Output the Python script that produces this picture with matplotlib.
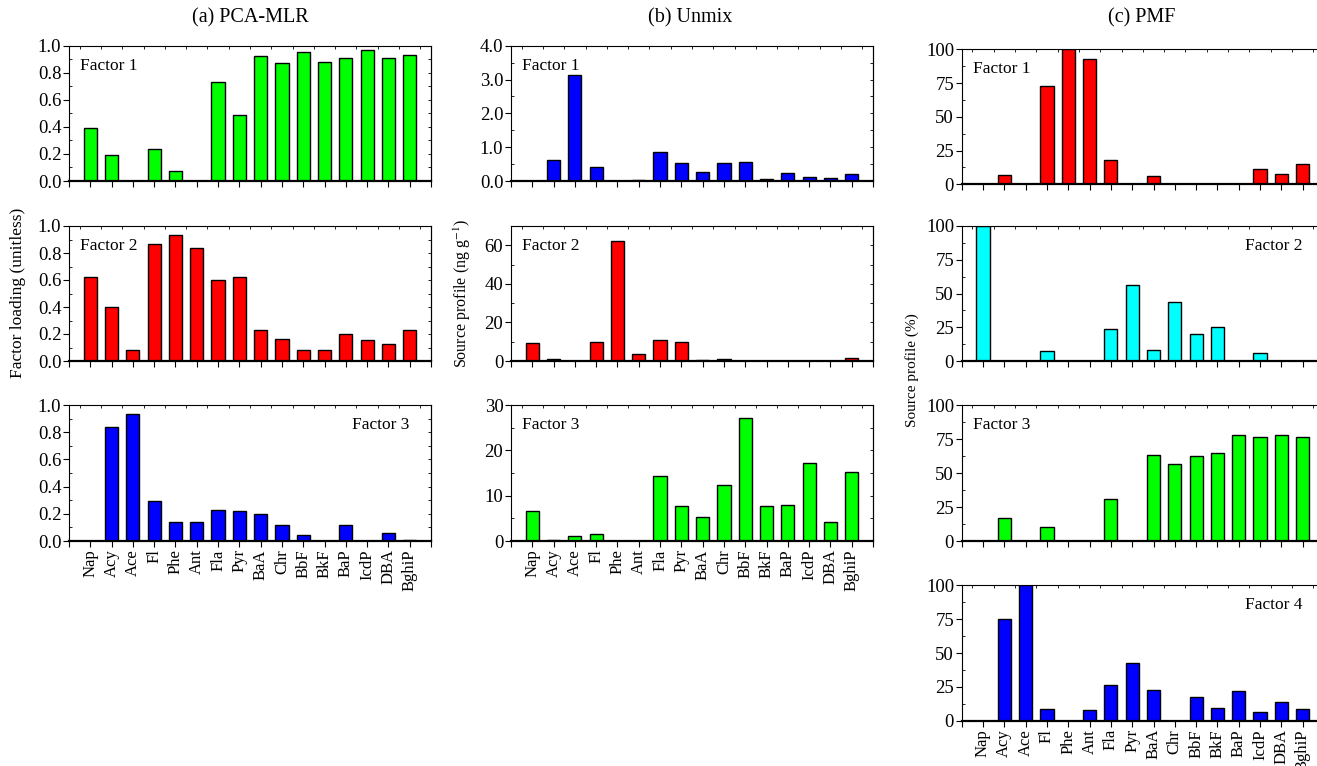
import matplotlib
matplotlib.use("Agg")
import matplotlib.pyplot as plt
from matplotlib.ticker import MultipleLocator, FormatStrFormatter

plt.rcParams['font.family'] = ['Liberation Serif', 'DejaVu Serif']
plt.rcParams['mathtext.fontset'] = 'stix'

compounds = ["Nap", "Acy", "Ace", "Fl", "Phe", "Ant", "Fla", "Pyr", "BaA", "Chr",
             "BbF", "BkF", "BaP", "IcdP", "DBA", "BghiP"]

# (a) PCA-MLR factor loadings
pca_f1 = [0.39, 0.19, 0.003, 0.236, 0.071, 0.0, 0.729, 0.49, 0.921, 0.869,
          0.951, 0.877, 0.906, 0.968, 0.911, 0.929]
pca_f2 = [0.622, 0.40, 0.084, 0.869, 0.936, 0.840, 0.602, 0.622, 0.232, 0.163,
          0.079, 0.084, 0.202, 0.153, 0.126, 0.227]
pca_f3 = [0.0, 0.838, 0.931, 0.292, 0.142, 0.142, 0.225, 0.223, 0.196, 0.118,
          0.042, 0.0, 0.115, 0.0, 0.056, 0.01]

# (b) Unmix source profiles (ng g-1)
unmix_f1 = [0.01, 0.63, 3.14, 0.41, 0.0, 0.04, 0.85, 0.52, 0.26, 0.54,
            0.55, 0.05, 0.25, 0.12, 0.08, 0.21]
unmix_f2 = [9.2, 1.2, 0.1, 9.85, 62.0, 3.6, 10.7, 9.7, 0.7, 0.9,
            0.2, 0.1, 0.1, 0.2, 0.1, 1.4]
unmix_f3 = [6.56, 0.3, 1.18, 1.47, 0.0, 0.0, 14.3, 7.81, 5.3, 12.38,
            27.2, 7.74, 7.96, 17.3, 4.2, 15.25]

# (c) PMF source profiles (%)
pmf_f1 = [0, 7.2, 0, 72.6, 100, 92.6, 18.3, 0, 5.9, 0,
          0, 0, 0, 11.1, 7.4, 14.8]
pmf_f2 = [100, 0, 0, 7.7, 0, 0, 23.7, 56.5, 8.1, 43.5,
          20.2, 25.2, 0, 6.2, 0, 0]
pmf_f3 = [0, 17.1, 0, 10.0, 0, 0, 31.2, 0, 62.9, 56.3,
          62.2, 64.9, 77.9, 76.4, 78.1, 76.2]
pmf_f4 = [0, 75.4, 100, 8.9, 0, 7.6, 26.4, 42.6, 22.7, 0,
          17.2, 9.6, 21.7, 6.2, 14.0, 8.4]

GREEN, RED, BLUE, CYAN = "#00ff00", "#ff0000", "#0000ff", "#00ffff"

W, H = 1317, 766
fig = plt.figure(figsize=(W / 100, H / 100), dpi=100)


def px_axes(left, top, right, bottom):
    return fig.add_axes([left / W, 1 - bottom / H, (right - left) / W, (bottom - top) / H])


def panel(ax, vals, color, ymax, major, minor, fmt, label, label_right, show_x):
    x = range(len(compounds))
    ax.bar(x, vals, width=0.62, color=color, edgecolor="black", linewidth=1.0, zorder=2)
    ax.set_xlim(-1, len(compounds))
    ax.set_ylim(0, ymax)
    ax.yaxis.set_major_locator(MultipleLocator(major))
    ax.yaxis.set_minor_locator(MultipleLocator(minor))
    ax.yaxis.set_major_formatter(FormatStrFormatter(fmt))
    ax.set_xticks(list(range(-1, len(compounds) + 1)))
    ax.xaxis.set_minor_locator(MultipleLocator(0.5))
    if show_x:
        ax.set_xticklabels([""] + compounds + [""], rotation=90, fontsize=12)
    else:
        ax.set_xticklabels([])
    ax.tick_params(axis="y", which="major", direction="out", length=4, width=0.8,
                   labelsize=13.5, pad=1.5, right=False)
    ax.tick_params(axis="y", which="minor", direction="in", length=2.5, width=0.6)
    ax.tick_params(axis="x", which="major", direction="out", length=4, width=0.8,
                   bottom=True, top=False, pad=2)
    ax.tick_params(axis="x", which="minor", bottom=False, top=True, direction="in",
                   length=2.5, width=0.6)
    # inward ticks along the right spine
    sec = ax.secondary_yaxis("right")
    sec.yaxis.set_major_locator(MultipleLocator(minor))
    sec.tick_params(direction="in", length=2.5, width=0.6, labelright=False)
    for s in ax.spines.values():
        s.set_linewidth(0.8)
    ax.spines["bottom"].set_linewidth(1.6)
    sec.spines["right"].set_linewidth(0.8)
    if label_right:
        ax.text(0.94, 0.91, label, transform=ax.transAxes, ha="right", va="top", fontsize=12.5)
    else:
        ax.text(0.03, 0.91, label, transform=ax.transAxes, ha="left", va="top", fontsize=12.5)


# column (a)
a1 = px_axes(69, 45.7, 431, 181)
a2 = px_axes(69, 226, 431, 361)
a3 = px_axes(69, 405, 431, 541)
panel(a1, pca_f1, GREEN, 1.0, 0.2, 0.1, "%.1f", "Factor 1", False, False)
panel(a2, pca_f2, RED, 1.0, 0.2, 0.1, "%.1f", "Factor 2", False, False)
panel(a3, pca_f3, BLUE, 1.0, 0.2, 0.1, "%.1f", "Factor 3", True, True)

# column (b)
b1 = px_axes(511, 45.7, 873, 181)
b2 = px_axes(511, 226, 873, 361)
b3 = px_axes(511, 405, 873, 541)
panel(b1, unmix_f1, BLUE, 4.0, 1.0, 0.5, "%.1f", "Factor 1", False, False)
panel(b2, unmix_f2, RED, 70, 20, 10, "%d", "Factor 2", False, False)
panel(b3, unmix_f3, GREEN, 30, 10, 5, "%d", "Factor 3", False, True)

# column (c)
c1 = px_axes(961.7, 49.3, 1324, 184.3)
c2 = px_axes(961.7, 226, 1324, 361)
c3 = px_axes(961.7, 405, 1324, 541)
c4 = px_axes(961.7, 585.3, 1324, 720.7)
panel(c1, pmf_f1, RED, 100, 25, 12.5, "%d", "Factor 1", False, False)
panel(c2, pmf_f2, CYAN, 100, 25, 12.5, "%d", "Factor 2", True, False)
panel(c3, pmf_f3, GREEN, 100, 25, 12.5, "%d", "Factor 3", False, False)
panel(c4, pmf_f4, BLUE, 100, 25, 12.5, "%d", "Factor 4", True, True)

# column titles
fig.text(250 / W, 1 - 18 / H, "(a) PCA-MLR", ha="center", va="center", fontsize=14.5)
fig.text(690 / W, 1 - 18 / H, "(b) Unmix", ha="center", va="center", fontsize=14.5)
fig.text(1142 / W, 1 - 18 / H, "(c) PMF", ha="center", va="center", fontsize=14.5)

# y-axis labels
fig.text(18 / W, 1 - 293 / H, "Factor loading (unitless)", rotation=90,
         ha="center", va="center", fontsize=12.5)
fig.text(462 / W, 1 - 293 / H, "Source profile (ng g$^{-1}$)", rotation=90,
         ha="center", va="center", fontsize=11.5)
fig.text(912 / W, 1 - 370 / H, "Source profile (%)", rotation=90,
         ha="center", va="center", fontsize=11)

fig.savefig("out.png", dpi=100)
